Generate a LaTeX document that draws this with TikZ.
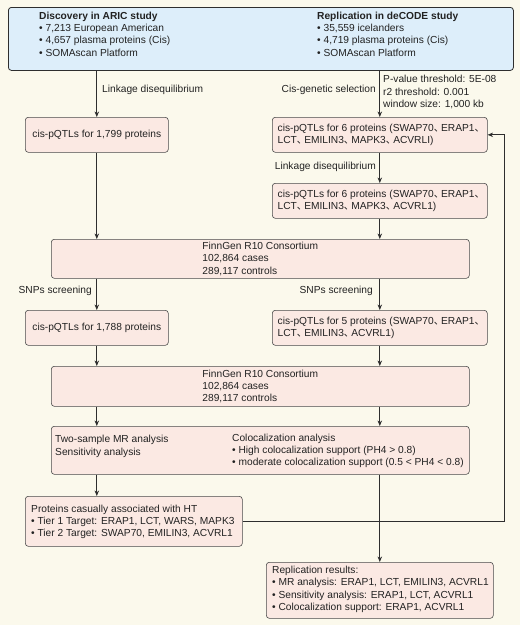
\documentclass[tikz,border=0pt]{standalone}
\usepackage{fontspec}
\setmainfont{Liberation Sans}
\newfontfamily\cjkfont{Noto Sans CJK SC}
\usetikzlibrary{arrows.meta,calc}
\newcommand{\idc}{\makebox[0.72em][l]{\cjkfont 、}}
\definecolor{bgcream}{HTML}{FBF9EC}
\definecolor{bluefill}{HTML}{DDEEFA}
\definecolor{pinkfill}{HTML}{FBE9E3}
\definecolor{bordergray}{HTML}{4A4A4A}
\definecolor{linegray}{HTML}{2E2E2E}
\definecolor{textcol}{HTML}{222222}
\begin{document}
\begin{tikzpicture}[x=1pt,y=-1pt,
  every node/.style={font=\fontsize{10.2}{12.3}\selectfont, text=textcol},
  box/.style={draw=bordergray, line width=0.6pt, rounded corners=3pt, fill=pinkfill, anchor=north west, inner sep=0pt},
  topbox/.style={box, fill=bluefill, line width=0.8pt, draw=linegray},
  txt/.style={inner sep=0pt, align=left},
  arr/.style={draw=linegray, line width=0.8pt, -{Stealth[length=5.5pt,width=4.5pt]}}]
\useasboundingbox[fill=bgcream] (0,0) rectangle (520,625);

% boxes
\node[topbox, minimum width=505, minimum height=63] (top) at (8,7) {};
\node[txt, anchor=west] (topL) at (39,34) {\textbf{Discovery in ARIC study}\\• 7,213 European American\\• 4,657 plasma proteins (Cis)\\• SOMAscan Platform};
\node[txt, anchor=west] (topR) at (317,34) {\textbf{Replication in deCODE study}\\• 35,559 icelanders\\• 4,719 plasma proteins (Cis)\\• SOMAscan Platform};

\node[box, minimum width=143, minimum height=35] (b1) at (25,117) {cis-pQTLs for 1,799 proteins};
\node[box, minimum width=215, minimum height=35, align=left] (r1) at (272,117) {cis-pQTLs for 6 proteins (SWAP70\idc ERAP1\idc\\LCT\idc EMILIN3\idc MAPK3\idc ACVRLI)};
\node[box, minimum width=215, minimum height=35, align=left] (r2) at (272,183) {cis-pQTLs for 6 proteins (SWAP70\idc ERAP1\idc\\LCT\idc EMILIN3\idc MAPK3\idc ACVRL1)};

\node[box, minimum width=418, minimum height=39, align=left] (f1) at (51,239) {FinnGen R10 Consortium\\102,864 cases\\289,117 controls};

\node[box, minimum width=143, minimum height=35] (b2) at (25,310) {cis-pQTLs for 1,788 proteins};
\node[box, minimum width=215, minimum height=35, align=left] (r3) at (272,310) {cis-pQTLs for 5 proteins (SWAP70\idc ERAP1\idc\\LCT\idc EMILIN3\idc ACVRL1)\hphantom{MAPK3\idc xx}};

\node[box, minimum width=418, minimum height=40, align=left] (f2) at (51,366) {FinnGen R10 Consortium\\102,864 cases\\289,117 controls};

\node[box, minimum width=418, minimum height=48] (ana) at (51,426) {};
\node[txt, anchor=west] (anaL) at (55,446.5) {Two-sample MR analysis\\Sensitivity analysis};
\node[txt, anchor=west] (anaR) at (232,451) {Colocalization analysis\\• High colocalization support (PH4 > 0.8)\\• moderate colocalization support (0.5 < PH4 < 0.8)};

\node[box, minimum width=217, minimum height=50] (prot) at (25,496) {};
\node[txt, anchor=west] (protT) at (31,522) {Proteins casually associated with HT\\• Tier 1 Target: ERAP1, LCT, WARS, MAPK3\\• Tier 2 Target: SWAP70, EMILIN3, ACVRL1};

\node[box, minimum width=227, minimum height=56] (rep) at (266,562) {};
\node[txt, anchor=west] (repT) at (272,589.5) {Replication results:\\• MR analysis: ERAP1, LCT, EMILIN3, ACVRL1\\• Sensitivity analysis: ERAP1, LCT, ACVRL1\\• Colocalization support: ERAP1, ACVRL1};

% labels
\node[txt, anchor=west] (l1) at (102,90) {Linkage disequilibrium};
\node[txt, anchor=east] (l2) at (376,90) {Cis-genetic selection};
\node[txt, anchor=west] (l3) at (383,92) {P-value threshold: 5E-08\\r2 threshold: 0.001\\window size: 1,000 kb};
\node[txt, anchor=east] (l4) at (376,167) {Linkage disequilibrium};
\node[txt, anchor=east] (l5) at (92,291) {SNPs screening};
\node[txt, anchor=east] (l6) at (373,291) {SNPs screening};

% connectors
\draw[arr] (top.south -| b1.north) -- (b1.north);
\draw[arr] (top.south -| r1.north) -- (r1.north);
\draw[arr] (b1.south) -- (f1.north -| b1.south);
\draw[arr] (r1.south) -- (r2.north);
\draw[arr] (r2.south) -- (f1.north -| r2.south);
\draw[arr] (f1.south -| b2.north) -- (b2.north);
\draw[arr] (f1.south -| r3.north) -- (r3.north);
\draw[arr] (b2.south) -- (f2.north -| b2.south);
\draw[arr] (r3.south) -- (f2.north -| r3.south);
\draw[arr] (f2.south -| b2.south) -- (ana.north -| b2.south);
\draw[arr] (f2.south -| r3.south) -- (ana.north -| r3.south);
\draw[arr] (ana.south -| b2.south) -- (prot.north -| b2.south);
\draw[arr] (ana.south -| rep.north) -- (rep.north);
\draw[arr] (prot.east) -| ([xshift=17pt]r1.east) -- (r1.east);
\end{tikzpicture}
\end{document}
